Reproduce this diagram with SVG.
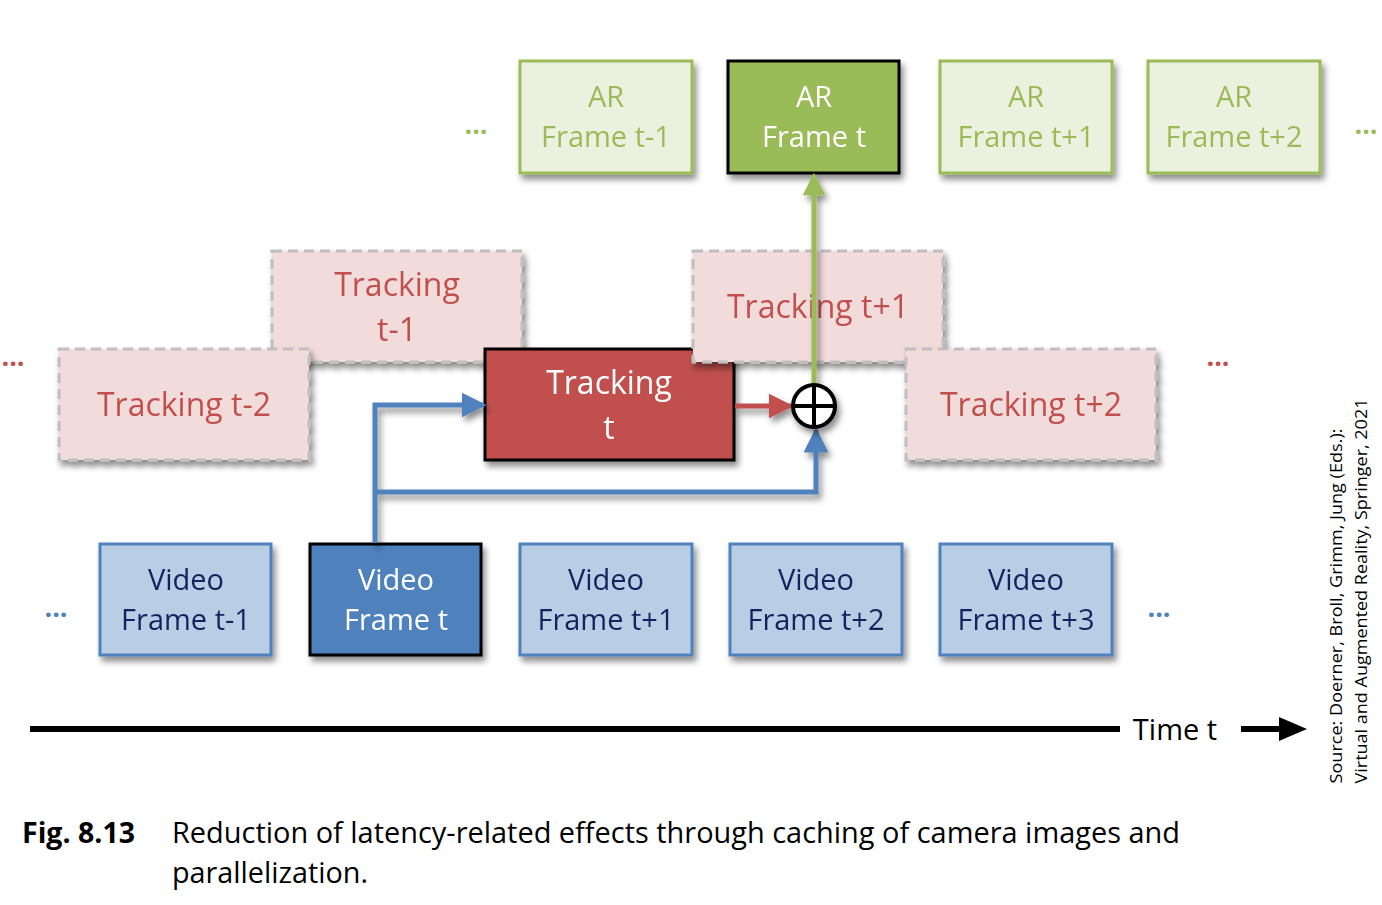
<svg xmlns="http://www.w3.org/2000/svg" width="1382" height="905" viewBox="0 0 1382 905">
<defs>
<filter id="sh" x="-20%" y="-20%" width="150%" height="160%">
<feDropShadow dx="3" dy="5" stdDeviation="3" flood-color="#000" flood-opacity="0.45"/>
</filter>
<marker id="ab" viewBox="0 0 10 10" refX="9" refY="5" markerWidth="5" markerHeight="5" markerUnits="strokeWidth" orient="auto"><path d="M0,0 L10,5 L0,10 z" fill="#4f81bd"/></marker>
<marker id="ar" viewBox="0 0 10 10" refX="9" refY="5" markerWidth="5" markerHeight="5" markerUnits="strokeWidth" orient="auto"><path d="M0,0 L10,5 L0,10 z" fill="#c0504d"/></marker>
<marker id="ag" viewBox="0 0 10 10" refX="9" refY="5" markerWidth="5" markerHeight="4.5" markerUnits="strokeWidth" orient="auto"><path d="M0,0 L10,5 L0,10 z" fill="#9bbb59"/></marker>
</defs>
<style>
text{font-family:"Open Sans","Liberation Sans",sans-serif;text-anchor:middle}
.arL rect{fill:#ebf1de;stroke:#9bbb59;stroke-width:3}
.arL text{fill:#9bbb59;font-size:29px}
.arH rect{fill:#9bbb59;stroke:#000;stroke-width:3}
.arH text{fill:#fff;font-size:29px}
.trL rect{fill:#f2dcdb;stroke:#bfbfbf;stroke-width:3;stroke-dasharray:10 6}
.trL text{fill:#c0504d;font-size:32px}
.trH rect{fill:#c0504d;stroke:#000;stroke-width:3}
.trH text{fill:#fff;font-size:32px}
.viL rect{fill:#b9cde5;stroke:#4f81bd;stroke-width:3}
.viL text{fill:#14235f;font-size:29px}
.viH rect{fill:#4f81bd;stroke:#000;stroke-width:3}
.viH text{fill:#fff;font-size:29px}
.dots{font-size:27px;font-weight:bold}
.cap{font-family:"Open Sans","Liberation Sans",sans-serif;font-size:29px;fill:#000;text-anchor:start}
</style>
<g id="ellipses" class="dots">
<text x="476" y="134" fill="#9bbb59">...</text>
<text x="1366" y="134" fill="#9bbb59">...</text>
<text x="13" y="366" fill="#c0504d">...</text>
<text x="1218" y="366" fill="#c0504d">...</text>
<text x="56" y="617" fill="#4f81bd">...</text>
<text x="1159" y="617" fill="#4f81bd">...</text>
</g>
<g id="ar-t-1" class="arL" filter="url(#sh)"><rect x="520" y="61" width="172" height="112"/><text x="606" y="107">AR</text><text x="606" y="147">Frame t-1</text></g>
<g id="ar-t" class="arH" filter="url(#sh)"><rect x="728" y="61" width="171" height="112"/><text x="814" y="107">AR</text><text x="814" y="147">Frame t</text></g>
<g id="ar-t1" class="arL" filter="url(#sh)"><rect x="940" y="61" width="172" height="112"/><text x="1026" y="107">AR</text><text x="1026" y="147">Frame t+1</text></g>
<g id="ar-t2" class="arL" filter="url(#sh)"><rect x="1148" y="61" width="172" height="112"/><text x="1234" y="107">AR</text><text x="1234" y="147">Frame t+2</text></g>
<g id="tracking-t-1" class="trL" filter="url(#sh)"><rect x="272" y="251" width="250" height="111"/><text x="397" y="296">Tracking</text><text x="397" y="341">t-1</text></g>
<g id="tracking-t-2" class="trL" filter="url(#sh)"><rect x="59" y="349" width="250" height="111"/><text x="184" y="416">Tracking t-2</text></g>
<g id="tracking-t" class="trH" filter="url(#sh)"><rect x="485" y="349" width="249" height="111"/><text x="609" y="394">Tracking</text><text x="609" y="439">t</text></g>
<g id="tracking-t1" class="trL" filter="url(#sh)"><rect x="693" y="251" width="250" height="111"/><text x="818" y="318">Tracking t+1</text></g>
<g id="tracking-t2" class="trL" filter="url(#sh)"><rect x="906" y="349" width="250" height="111"/><text x="1031" y="416">Tracking t+2</text></g>
<g id="video-t-1" class="viL" filter="url(#sh)"><rect x="100" y="544" width="171" height="111"/><text x="186" y="590">Video</text><text x="186" y="630">Frame t-1</text></g>
<g id="video-t" class="viH" filter="url(#sh)"><rect x="310" y="544" width="171" height="111"/><text x="396" y="590">Video</text><text x="396" y="630">Frame t</text></g>
<g id="video-t1" class="viL" filter="url(#sh)"><rect x="520" y="544" width="172" height="111"/><text x="606" y="590">Video</text><text x="606" y="630">Frame t+1</text></g>
<g id="video-t2" class="viL" filter="url(#sh)"><rect x="730" y="544" width="172" height="111"/><text x="816" y="590">Video</text><text x="816" y="630">Frame t+2</text></g>
<g id="video-t3" class="viL" filter="url(#sh)"><rect x="940" y="544" width="172" height="111"/><text x="1026" y="590">Video</text><text x="1026" y="630">Frame t+3</text></g>
<g id="connectors" filter="url(#sh)" fill="none">
<path d="M375,543 V405 H484" stroke="#4f81bd" stroke-width="5" marker-end="url(#ab)"/>
<path d="M375,492 H816 V430" stroke="#4f81bd" stroke-width="5" marker-end="url(#ab)"/>
<path d="M735,406 H791" stroke="#c0504d" stroke-width="5" marker-end="url(#ar)"/>
<path d="M814,384 V175" stroke="#9bbb59" stroke-width="5" marker-end="url(#ag)"/>
</g>
<g id="sum" filter="url(#sh)">
<circle cx="814" cy="406" r="21" fill="#fff" stroke="#000" stroke-width="4"/>
<path d="M793,406 H835 M814,385 V427" stroke="#000" stroke-width="4"/>
</g>
<g id="time-axis">
<line x1="30" y1="729" x2="1120" y2="729" stroke="#000" stroke-width="6"/>
<text x="1175" y="740" style="font-size:29px;fill:#000">Time t</text>
<line x1="1241" y1="729" x2="1282" y2="729" stroke="#000" stroke-width="6"/>
<path d="M1279,717 L1307,729 L1279,741 z" fill="#000"/>
</g>
<g id="source" style="font-size:16px;fill:#000">
<text transform="translate(1342,606) rotate(-90)" textLength="355" lengthAdjust="spacingAndGlyphs">Source: Doerner, Broll, Grimm, Jung (Eds.):</text>
<text transform="translate(1367,591) rotate(-90)" textLength="385" lengthAdjust="spacingAndGlyphs">Virtual and Augmented Reality, Springer, 2021</text>
</g>
<g id="caption">
<text class="cap" x="22" y="843" style="font-weight:bold" textLength="113" lengthAdjust="spacingAndGlyphs">Fig. 8.13</text>
<text class="cap" x="172" y="843" textLength="1008" lengthAdjust="spacingAndGlyphs">Reduction of latency-related effects through caching of camera images and</text>
<text class="cap" x="172" y="883" textLength="196" lengthAdjust="spacingAndGlyphs">parallelization.</text>
</g>
</svg>
